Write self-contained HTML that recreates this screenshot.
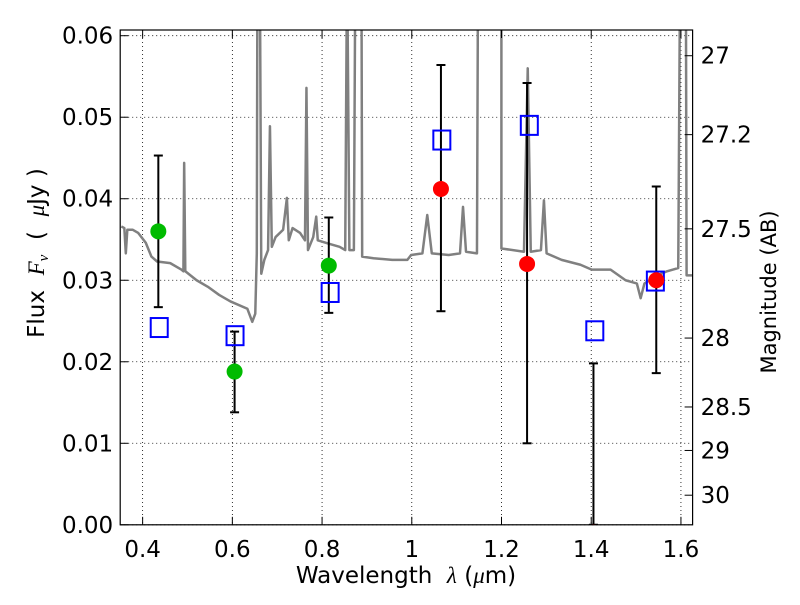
<!DOCTYPE html>
<html><head><meta charset="utf-8"><style>
body{margin:0;background:#fff;}
svg text{font-family:"DejaVu Sans","Liberation Sans",sans-serif;fill:#000;white-space:pre;}
</style></head><body>
<svg id="chart" width="800" height="600" viewBox="0 0 800 600" xmlns="http://www.w3.org/2000/svg"></svg>
<script>
// ---- data ----
const specLam = [0.3525,0.3592,0.3625,0.3659,0.3776,0.3902,0.4070,0.4196,0.4322,0.4615,0.4867,0.4909,0.4926,0.4951,0.5203,0.5454,0.5706,0.5958,0.6335,0.6444,0.6511,0.6545,0.656,0.6612,0.6645,0.6713,0.6796,0.6838,0.6880,0.6964,0.7132,0.7216,0.7258,0.7342,0.7510,0.7619,0.7652,0.7686,0.7803,0.7870,0.7904,0.8139,0.8390,0.8516,0.8558,0.8609,0.8709,0.8743,0.8877,0.8894,0.9146,0.9565,0.9901,0.9985,1.0237,1.0345,1.0446,1.0823,1.1075,1.1142,1.1209,1.1453,1.1478,1.1998,1.1998,1.2501,1.2585,1.2652,1.2879,1.2946,1.3005,1.3340,1.3760,1.4011,1.4431,1.4766,1.5018,1.5102,1.5186,1.5437,1.5689,1.5940,1.5983,1.6109,1.6126,1.626];
const specFlux = [0.0366,0.0364,0.0333,0.0362,0.0362,0.0358,0.0346,0.0329,0.0323,0.0321,0.0313,0.0311,0.0444,0.0311,0.0300,0.0292,0.0282,0.0274,0.0265,0.0249,0.0259,0.0333,0.07,0.07,0.0308,0.0325,0.0337,0.0489,0.0341,0.0353,0.0362,0.0401,0.0349,0.0364,0.0358,0.0349,0.0536,0.0337,0.0353,0.0378,0.0349,0.0345,0.0341,0.0337,0.07,0.0337,0.0337,0.07,0.07,0.0329,0.0327,0.0325,0.0325,0.0331,0.0333,0.0380,0.0333,0.0331,0.0333,0.0390,0.0335,0.0333,0.07,0.07,0.0339,0.0335,0.0560,0.0335,0.0337,0.0398,0.0333,0.0325,0.0319,0.0313,0.0313,0.0300,0.0296,0.0278,0.0296,0.0305,0.0311,0.0315,0.07,0.07,0.0306,0.0306];
const greenLam = [0.435,0.605,0.815];
const greenFlux = [0.0360,0.0188,0.0318];
const greenLo = [0.0267,0.0138,0.0260];
const greenHi = [0.0453,0.0237,0.0377];
const redLam = [1.065,1.257,1.405,1.545];
const redFlux = [0.0412,0.0320,-0.0009,0.0300];
const redLo = [0.0262,0.0100,0.0,0.0186];
const redHi = [0.0564,0.0542,0.0198,0.0415];
const sqLam = [0.437,0.606,0.818,1.067,1.262,1.408,1.543];
const sqFlux = [0.0242,0.0232,0.0285,0.0472,0.0490,0.0238,0.0299];
const xTicks = [0.4,0.6,0.8,1.0,1.2,1.4,1.6];
const xTickLabels = ["0.4","0.6","0.8","1","1.2","1.4","1.6"];
const yTicks = [0,0.01,0.02,0.03,0.04,0.05,0.06];
const yTickLabels = ["0.00","0.01","0.02","0.03","0.04","0.05","0.06"];
const magTicks = [27,27.2,27.5,28,28.5,29,30];
const magTickLabels = ["27","27.2","27.5","28","28.5","29","30"];

// ---- axes ----
const L=120.2,R=692.6,T=30,B=524.8;
const xMin=0.35,xMax=1.626,yMin=0,yMax=0.0607;
const X=v=>L+(v-xMin)/(xMax-xMin)*(R-L);
const Y=v=>B-(v-yMin)/(yMax-yMin)*(B-T);
const magToFlux=m=>Math.pow(10,(23.9-m)/2.5);
const svg=document.getElementById('chart');
const NS='http://www.w3.org/2000/svg';
function mk(tag,attrs,parent){const e=document.createElementNS(NS,tag);for(const k in attrs)e.setAttribute(k,attrs[k]);(parent||svg).appendChild(e);return e;}

const defs=mk('defs',{});
const cp=mk('clipPath',{id:'clip'},defs);
mk('rect',{x:L,y:T,width:R-L,height:B-T},cp);

const grid=mk('g',{});


xTicks.forEach(v=>mk('line',{x1:X(v),x2:X(v),y1:T,y2:B,stroke:'#000','stroke-width':0.8,'stroke-dasharray':'1,3'},grid));
yTicks.forEach(v=>mk('line',{x1:L,x2:R,y1:Y(v),y2:Y(v),stroke:'#000','stroke-width':0.8,'stroke-dasharray':'1,3'},grid));

const plot=mk('g',{'clip-path':'url(#clip)'});
const sp=mk('polyline',{points:specLam.map((l,i)=>X(l)+','+Y(specFlux[i])).join(' '),fill:'none',stroke:'#808080','stroke-width':2.5,'stroke-linejoin':'round'},plot);



function errbar(lam,lo,hi,name){
  const g=mk('g',{},plot);
  
  
  const x=X(lam);
  mk('line',{x1:x,x2:x,y1:Y(lo),y2:Y(hi),stroke:'#000','stroke-width':2},g);
  mk('line',{x1:x-4.5,x2:x+4.5,y1:Y(lo),y2:Y(lo),stroke:'#000','stroke-width':2},g);
  mk('line',{x1:x-4.5,x2:x+4.5,y1:Y(hi),y2:Y(hi),stroke:'#000','stroke-width':2},g);
}
greenLam.forEach((l,i)=>errbar(l,greenLo[i],greenHi[i],'errorbar-green'));
redLam.forEach((l,i)=>errbar(l,redLo[i],redHi[i],'errorbar-red'));
sqLam.forEach((l,i)=>{
  const r=mk('rect',{x:X(l)-8.5,y:Y(sqFlux[i])-9.5,width:17,height:19,fill:'none',stroke:'#0000ff','stroke-width':2},plot);
  
  
});
greenLam.forEach((l,i)=>{
  const c=mk('circle',{cx:X(l),cy:Y(greenFlux[i]),r:8,fill:'#00bb00'},plot);
  
  
});
redLam.forEach((l,i)=>{
  const c=mk('circle',{cx:X(l),cy:Y(redFlux[i]),r:8,fill:'#ff0000'},plot);
  
  
});

const fr=mk('rect',{x:L,y:T,width:R-L,height:B-T,fill:'none',stroke:'#000','stroke-width':1.2});



xTicks.forEach((v,i)=>{
  mk('line',{x1:X(v),x2:X(v),y1:B,y2:B-8,stroke:'#000'});
  mk('line',{x1:X(v),x2:X(v),y1:T,y2:T+8,stroke:'#000'});
  const t=mk('text',{x:X(v),y:B+32,'text-anchor':'middle','font-size':23});
  t.textContent=xTickLabels[i];
  
  
});
yTicks.forEach((v,i)=>{
  mk('line',{x1:L,x2:L+8,y1:Y(v),y2:Y(v),stroke:'#000'});
  const t=mk('text',{x:L-7,y:Y(v)+8,'text-anchor':'end','font-size':23});
  t.textContent=yTickLabels[i];
  
  
});
magTicks.forEach((m,i)=>{
  const y=Y(magToFlux(m));
  mk('line',{x1:R,x2:R-8,y1:y,y2:y,stroke:'#000'});
  const t=mk('text',{x:R+8,y:y+8,'text-anchor':'start','font-size':23});
  t.textContent=magTickLabels[i];
  
  
});

const xt=mk('text',{x:406,y:583,'text-anchor':'middle','font-size':23});
xt.innerHTML='Wavelength  <tspan font-style="italic" font-family="Liberation Serif, serif">λ</tspan> (<tspan font-style="italic" font-family="Liberation Serif, serif">μ</tspan>m)';


const yt=mk('text',{x:0,y:0,'text-anchor':'middle','font-size':23,transform:'translate(44,253) rotate(-90)'});
yt.innerHTML='Flux  <tspan font-style="italic" font-family="Liberation Serif, serif">F<tspan font-size="15" dy="4">ν</tspan></tspan><tspan dy="-4">  (  </tspan><tspan font-style="italic" font-family="Liberation Serif, serif">μ</tspan>Jy )';


const rt=mk('text',{x:0,y:0,'text-anchor':'middle','font-size':21,transform:'translate(776,292) rotate(-90)'});
rt.textContent='Magnitude (AB)';


</script>
</body></html>
